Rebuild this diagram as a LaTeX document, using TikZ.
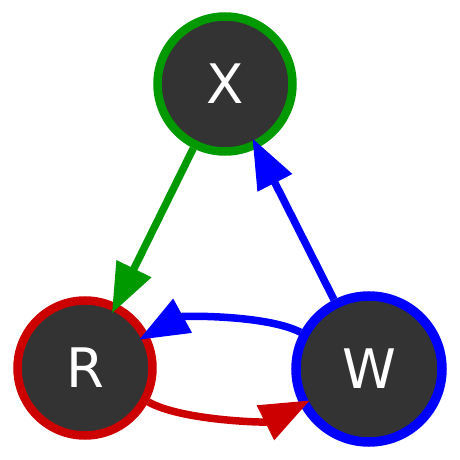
\documentclass[tikz,border=0pt]{standalone}
\usepackage{fontspec}
\setmainfont{DejaVu Sans}
\usepackage{xcolor}
\usetikzlibrary{arrows.meta,positioning,calc}

\definecolor{nodefill}{HTML}{333333}
\definecolor{xgreen}{HTML}{009900}
\definecolor{rred}{HTML}{CC0000}
\definecolor{wblue}{HTML}{0000FF}

\begin{document}
\begin{tikzpicture}[
    state/.style={circle, fill=nodefill, line width=0.17cm, minimum size=2.70cm,
        inner sep=0pt, text=white, font=\fontsize{31}{36}\selectfont},
    edge/.style={line width=0.15cm, shorten >=-0.22cm,
        -{Triangle[length=1.0cm, width=0.74cm]}}
]
            % fix the picture size
            \useasboundingbox (0,0) rectangle (9.2,9.2);
            % draw the states
            \node[state, draw=xgreen] (X) at (4.50,7.52) {X};
            \node[state, draw=rred] (R) at (1.70,1.84) {R};
            \node[state, draw=wblue, line width=0.19cm, minimum size=2.92cm] (W) at (7.38,1.82) {W};
            % draw the transitions
            \draw[edge, xgreen] (X) -- (R);
            \draw[edge, wblue] (W) -- (X);
            \draw[edge, wblue] (W) to[bend right=28, looseness=0.65] (R);
            \draw[edge, rred] (R) to[bend right=28, looseness=0.65] (W);
        \end{tikzpicture}
\end{document}
